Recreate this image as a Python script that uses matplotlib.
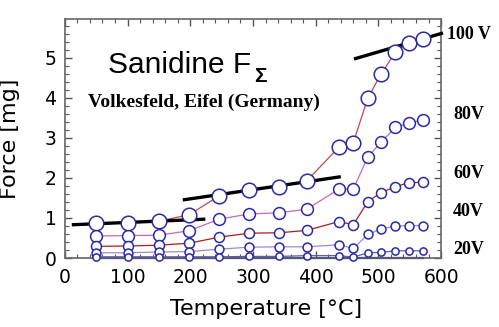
import matplotlib
matplotlib.use("Agg")
import matplotlib.pyplot as plt
from matplotlib.ticker import MultipleLocator

temps = [50, 100, 150, 198, 246, 294, 342, 386, 437, 460, 483, 504, 527, 548, 571]
f100 = [0.87, 0.88, 0.92, 1.08, 1.55, 1.70, 1.78, 1.93, 2.77, 2.88, 3.99, 4.59, 5.14, 5.37, 5.47]
f80 = [0.55, 0.56, 0.57, 0.68, 0.97, 1.10, 1.13, 1.22, 1.72, 1.72, 2.52, 2.89, 3.26, 3.37, 3.45]
f60 = [0.29, 0.30, 0.32, 0.37, 0.52, 0.62, 0.63, 0.69, 0.91, 0.83, 1.41, 1.63, 1.78, 1.88, 1.89]
f40 = [0.13, 0.13, 0.15, 0.16, 0.22, 0.27, 0.28, 0.28, 0.33, 0.24, 0.59, 0.72, 0.80, 0.81, 0.81]
f20 = [0.03, 0.03, 0.03, 0.03, 0.03, 0.04, 0.04, 0.06, 0.06, 0.02, 0.13, 0.14, 0.18, 0.18, 0.18]
f0 = [0.0] * len(temps)

series = [
    ("100 V", f100, "#c04848", 10.5),
    ("80V", f80, "#c868b8", 8.5),
    ("60V", f60, "#b01c1c", 7.2),
    ("40V", f40, "#a088d8", 6.4),
    ("20V", f20, "#5a5ac0", 5.2),
]
label_y = [5.57, 3.58, 2.12, 1.15, 0.20]
label_x = [609, 619, 619, 619, 619]

fits = [
    ([11, 224], [0.83, 0.97]),
    ([188, 440], [1.45, 2.03]),
    ([461, 603], [4.97, 5.62]),
]

fig = plt.figure(figsize=(4.99, 3.27), dpi=100)
ax = fig.add_axes([0.130, 0.211, 0.754, 0.731])
ax.set_xlim(0, 600)
ax.set_ylim(0, 5.97)

ax.plot(temps, f0, color="#1a1a70", lw=1.6, zorder=2, clip_on=False)
for name, vals, col, ms in series:
    ax.plot(temps, vals, color=col, lw=0.9, zorder=2)
for xs, ys in fits:
    ax.plot(xs, ys, color="black", lw=2.4, zorder=3, clip_on=False, solid_capstyle="butt")
for name, vals, col, ms in series:
    ax.plot(temps, vals, ls="none", marker="o", ms=ms, mfc="white",
            mec="#2a2aa8", mew=1.1, zorder=4, clip_on=False)

for (name, vals, col, ms), lx, ly in zip(series, label_x, label_y):
    ax.text(lx, ly, name, fontsize=13, fontweight="bold", family="Liberation Serif",
            va="center", ha="left", clip_on=False)

ax.text(0.115, 0.774, "Sanidine F", transform=ax.transAxes,
        fontsize=21.5, family="Liberation Sans", va="baseline", ha="left")
ax.text(0.503, 0.738, "Σ", transform=ax.transAxes,
        fontsize=15, fontweight="bold", family="Liberation Sans", va="baseline", ha="left")
ax.text(0.062, 0.632, "Volkesfeld, Eifel (Germany)", transform=ax.transAxes,
        fontsize=14, fontweight="bold", family="Liberation Serif", va="baseline", ha="left")

ax.xaxis.set_major_locator(MultipleLocator(100))
ax.xaxis.set_minor_locator(MultipleLocator(20))
ax.yaxis.set_major_locator(MultipleLocator(1))
ax.yaxis.set_minor_locator(MultipleLocator(0.2))
ax.tick_params(which="both", direction="in", top=True, right=True, colors="#555555",
               labelcolor="black", labelsize=13.5)
ax.tick_params(which="major", length=5, width=1)
ax.tick_params(axis="x", which="major", pad=7)
ax.tick_params(axis="y", which="major", pad=6)
ax.tick_params(which="minor", length=3, width=0.8)
for s in ax.spines.values():
    s.set_color("#666666")
    s.set_linewidth(1.2)

ax.set_xlabel("Temperature [°C]", fontsize=16)
ax.set_ylabel("Force [mg]", fontsize=16)
ax.xaxis.set_label_coords(0.535, -0.17)
ax.yaxis.set_label_coords(-0.118, 0.5)

fig.savefig("out.png", dpi=100)
